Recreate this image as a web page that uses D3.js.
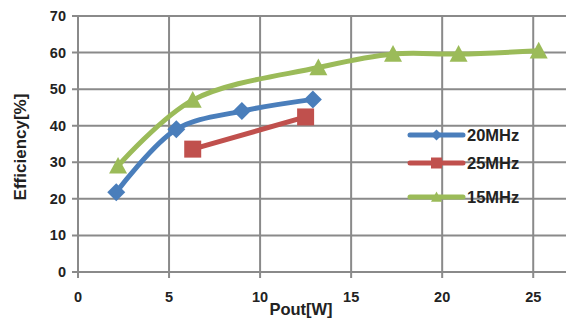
<!DOCTYPE html>
<html>
<head>
<meta charset="utf-8">
<script src="https://cdn.jsdelivr.net/npm/d3@7"></script>
<style>
  html, body { margin: 0; padding: 0; background: #fff; }
  svg { display: block; }
  text { font-family: "Liberation Sans", Arial, sans-serif; font-weight: bold; fill: #222; }
</style>
</head>
<body>
<svg id="chart" width="566" height="320"></svg>
<script>
// Efficiency vs output power for three switching frequencies
const xTicks = [0, 5, 10, 15, 20, 25];
const yTicks = [0, 10, 20, 30, 40, 50, 60, 70];

const seriesNames = ["20MHz", "25MHz", "15MHz"];
const seriesColors = ["#4A7EBB", "#C0504D", "#9BBB59"];
const seriesMarkers = ["diamond", "square", "triangle"];

const pout20 = [2.1, 5.4, 9.0, 12.9];
const eff20  = [21.8, 39.0, 44.0, 47.2];

const pout25 = [6.3, 12.5];
const eff25  = [33.6, 42.4];

const pout15 = [2.2, 6.3, 13.2, 17.3, 20.9, 25.3];
const eff15  = [29.0, 47.0, 55.9, 59.6, 59.6, 60.5];

const seriesData = [
  pout20.map((x, i) => ({ x, y: eff20[i] })),
  pout25.map((x, i) => ({ x, y: eff25[i] })),
  pout15.map((x, i) => ({ x, y: eff15[i] }))
];

const svg = d3.select("#chart");
const margin = { left: 78, right: 0, top: 16, bottom: 48 };
const W = 566, H = 320;

const x = d3.scaleLinear().domain([0, 26.8]).range([margin.left, W - margin.right]);
const y = d3.scaleLinear().domain([0, 70]).range([H - margin.bottom, margin.top]);

const gridColor = "#8a8a8a";

// horizontal gridlines (with small ticks left of the axis)
svg.append("g").selectAll("line").data(yTicks).join("line")
  .attr("x1", margin.left - 6).attr("x2", W)
  .attr("y1", d => y(d)).attr("y2", d => y(d))
  .attr("stroke", gridColor).attr("stroke-width", 2);

// vertical gridlines (with small ticks below the axis)
svg.append("g").selectAll("line").data(xTicks).join("line")
  .attr("x1", d => x(d)).attr("x2", d => x(d))
  .attr("y1", y(70)).attr("y2", y(0) + 6)
  .attr("stroke", gridColor).attr("stroke-width", 2);

// tick labels
svg.append("g").selectAll("text").data(yTicks).join("text")
  .attr("x", margin.left - 12).attr("y", d => y(d))
  .attr("text-anchor", "end").attr("dominant-baseline", "central")
  .attr("font-size", 14.5).text(d => d);

svg.append("g").selectAll("text").data(xTicks).join("text")
  .attr("x", d => x(d)).attr("y", y(0) + 25)
  .attr("text-anchor", "middle").attr("dominant-baseline", "central")
  .attr("font-size", 14.5).text(d => d);

// axis titles
svg.append("text")
  .attr("transform", `translate(20, ${(y(0) + y(70)) / 2 + 3}) rotate(-90)`)
  .attr("text-anchor", "middle").attr("dominant-baseline", "central")
  .attr("font-size", 17).text("Efficiency[%]");

svg.append("text")
  .attr("x", 301).attr("y", 309)
  .attr("text-anchor", "middle").attr("dominant-baseline", "central")
  .attr("font-size", 16.5).text("Pout[W]");

function markerPath(type, s) {
  const h = s / 2;
  if (type === "diamond") return `M0,${-h}L${h},0L0,${h}L${-h},0Z`;
  if (type === "square") return `M${-h},${-h}H${h}V${h}H${-h}Z`;
  return `M0,${-h}L${h},${h * 0.85}H${-h}Z`;
}

const line = d3.line().x(d => x(d.x)).y(d => y(d.y)).curve(d3.curveCatmullRom.alpha(0.5));

const markerSize = [18, 17, 18];

seriesData.forEach((pts, i) => {
  const g = svg.append("g");
  g.append("path").datum(pts).attr("d", line)
    .attr("fill", "none").attr("stroke", seriesColors[i])
    .attr("stroke-width", 5).attr("stroke-linejoin", "round").attr("stroke-linecap", "round");
  g.selectAll("path.m").data(pts).join("path").attr("class", "m")
    .attr("transform", d => `translate(${x(d.x)},${y(d.y)})`)
    .attr("d", markerPath(seriesMarkers[i], markerSize[i]))
    .attr("fill", seriesColors[i]);
});

// legend
const legY = [135, 163, 197];
const legend = svg.append("g");
seriesNames.forEach((name, i) => {
  legend.append("line")
    .attr("x1", 410).attr("x2", 463).attr("y1", legY[i]).attr("y2", legY[i])
    .attr("stroke", seriesColors[i]).attr("stroke-width", 5).attr("stroke-linecap", "round");
  legend.append("path")
    .attr("transform", `translate(436.5,${legY[i]})`)
    .attr("d", markerPath(seriesMarkers[i], 11))
    .attr("fill", seriesColors[i]);
  legend.append("text")
    .attr("x", 467).attr("y", legY[i])
    .attr("dominant-baseline", "central")
    .attr("font-size", 16.5).text(name);
});
</script>
</body>
</html>
